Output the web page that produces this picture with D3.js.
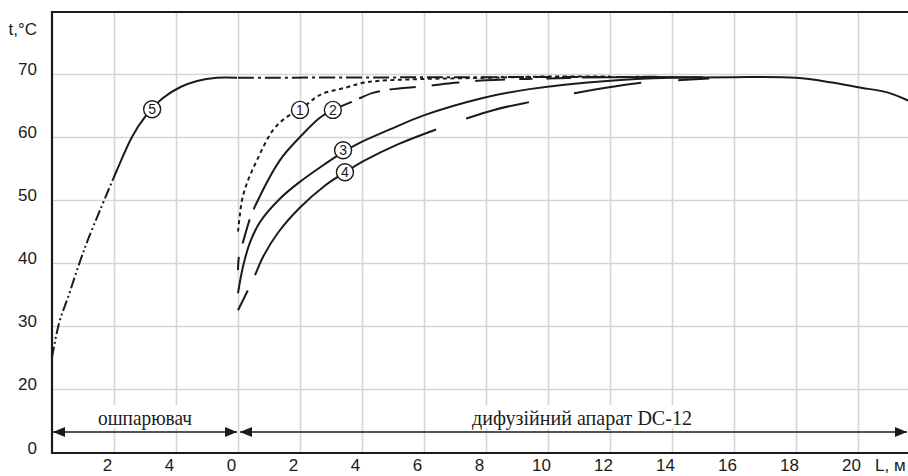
<!DOCTYPE html>
<html>
<head>
<meta charset="utf-8">
<script src="https://cdn.jsdelivr.net/npm/d3@7"></script>
<style>
  html, body { margin: 0; padding: 0; background: #fff; }
  svg { display: block; }
</style>
</head>
<body>
<div id="chart"></div>
<script>
// distance axis: 0..6 = scalder (ошпарювач), from 6 on = diffuser DC-12
const xTickValues = [2, 4, 6, 8, 10, 12, 14, 16, 18, 20, 22, 24, 26];
const xTickLabels = ["2", "4", "0", "2", "4", "6", "8", "10", "12", "14", "16", "18", "20"];
const yTickValues = [0, 20, 30, 40, 50, 60, 70];
const diffuserStart = 6;

// curve 5 (scalder), [length, t]
const curve5 = [
    [0, 25.0], [0.23, 30.5], [0.52, 34.6], [0.9, 40.2], [1.16, 43.7], [1.55, 48.4],
    [1.97, 53.3], [2.1, 54.8], [2.58, 60.0], [3.0, 63.2], [3.58, 66.2], [4.13, 67.9],
    [4.68, 68.9], [5.32, 69.4], [5.97, 69.4]
];
// curve 5 carried over the diffuser, [diffuser length, t]
const curve5Carry = [[0, 69.4], [4, 69.45], [8, 69.5], [13.5, 69.55]];

// diffuser curves, [diffuser length, t]
const curve1 = [
    [0, 45.0], [0.06, 47.6], [0.13, 50.0], [0.29, 52.7], [0.61, 56.3], [1.13, 61.1],
    [1.58, 63.2], [2.0, 64.3], [2.65, 66.7], [3.52, 67.9], [4.03, 68.6], [4.5, 68.9],
    [5.9, 69.2], [8, 69.4], [10, 69.6], [12, 69.6]
];
const curve2 = [
    [0, 38.9], [0.03, 41.0], [0.16, 43.3], [0.39, 47.1], [0.52, 48.7], [1.35, 56.3],
    [2.0, 60.0], [2.65, 63.1], [3.1, 64.4], [3.68, 65.6], [4.35, 67.0], [5.0, 67.6],
    [6.1, 68.1], [7.0, 68.6], [8.0, 69.0], [10, 69.3], [12, 69.5], [15, 69.5]
];
const curve3 = [
    [0, 35.2], [0.16, 39.4], [0.39, 43.3], [0.71, 46.5], [1.35, 50.2], [2.0, 52.9],
    [2.8, 55.7], [3.39, 57.6], [3.94, 59.1], [4.9, 61.2], [5.97, 63.4], [7.9, 66.2],
    [9.4, 67.6], [11.9, 68.9], [14, 69.4], [16, 69.5], [18, 69.4], [19.1, 68.7],
    [20, 67.9], [21, 67.0], [21.7, 65.6], [22, 64.9]
];
const curve4 = [
    [0, 32.5], [0.32, 35.7], [0.55, 38.1], [0.81, 41.0], [1.29, 44.8], [2.0, 48.8],
    [2.81, 52.3], [3.39, 54.2], [4.06, 56.2], [5.19, 58.9], [6.39, 61.2], [7.35, 62.9],
    [8.26, 64.3], [9.45, 65.6], [10.9, 67.0], [13, 68.6], [14.2, 69.0], [15.2, 69.3]
];

// circled curve numbers, [length on full axis, t]
const markNames = ["1", "2", "3", "4", "5"];
const markPos = [[8.0, 64.3], [9.06, 64.3], [9.39, 57.9], [9.45, 54.4], [3.23, 64.4]];

const zones = ["ошпарювач", "дифузійний апарат DC-12"];

const width = 908, height = 476;
const plotLeft = 52, plotTop = 12, plotBottom = 453;
const ink = "#1b1b1b";

const svg = d3.select("#chart").append("svg")
    .attr("width", width)
    .attr("height", height);

const x = d3.scaleLinear().domain([0, 28]).range([plotLeft, plotLeft + 28 * 31]);
const y = d3.scaleLinear().domain([0, 20, 80]).range([plotBottom, 389, 11]);

svg.append("clipPath").attr("id", "plot")
    .append("rect").attr("x", plotLeft).attr("y", plotTop)
    .attr("width", width - plotLeft).attr("height", plotBottom - plotTop);

// grid + labels (x)
const xAxis = svg.append("g")
    .attr("transform", "translate(0," + plotBottom + ")")
    .call(d3.axisBottom(x).tickValues(xTickValues).tickSize(-(plotBottom - plotTop)).tickPadding(0)
        .tickFormat((d, i) => xTickLabels[i]));
xAxis.select(".domain").remove();
xAxis.selectAll(".tick line").attr("stroke", "#d5d5d5").attr("stroke-width", 1.6);
xAxis.selectAll(".tick text")
    .attr("font-family", "'Liberation Sans', Arial, sans-serif")
    .attr("font-size", 17).attr("fill", ink)
    .attr("dx", -7).attr("y", 18).attr("dy", 0);

// grid + labels (y)
const yAxis = svg.append("g")
    .attr("transform", "translate(" + plotLeft + ",0)")
    .call(d3.axisLeft(y).tickValues(yTickValues).tickSize(-(width - plotLeft)).tickPadding(15));
yAxis.select(".domain").remove();
yAxis.selectAll(".tick line").attr("stroke", d => d === 0 ? "none" : "#d5d5d5").attr("stroke-width", 1.6);
yAxis.selectAll(".tick text")
    .attr("font-family", "'Liberation Sans', Arial, sans-serif")
    .attr("font-size", 17).attr("fill", ink)
    .attr("dy", 0).attr("y", 0);

svg.append("text")
    .attr("x", 37).attr("y", 35)
    .attr("text-anchor", "end")
    .attr("font-family", "'Liberation Sans', Arial, sans-serif")
    .attr("font-size", 17).attr("fill", ink)
    .text("t,°C");

svg.append("text")
    .attr("x", 875).attr("y", 471)
    .attr("font-family", "'Liberation Sans', Arial, sans-serif")
    .attr("font-size", 17).attr("fill", ink)
    .text("L, м");

// zone labels with arrows
const zoneBounds = [[0, diffuserStart], [diffuserStart, 28]];
const zoneText = [{ w: 94 }, { w: 220 }];
const defs = svg.append("defs");
defs.append("marker").attr("id", "head").attr("viewBox", "0 0 12 10")
    .attr("refX", 12).attr("refY", 5).attr("markerWidth", 12).attr("markerHeight", 10)
    .attr("markerUnits", "userSpaceOnUse").attr("orient", "auto-start-reverse")
    .append("path").attr("d", "M0,0L12,5L0,10Z").attr("fill", ink);

zones.forEach((name, i) => {
    const x0 = x(zoneBounds[i][0]) + (i === 0 ? 1 : 2);
    const x1 = Math.min(x(zoneBounds[i][1]), width) - 1;
    const cx = i === 0 ? (x0 + x1) / 2 : 582;
    svg.append("rect")
        .attr("x", cx - zoneText[i].w / 2 - 6).attr("y", 405)
        .attr("width", zoneText[i].w + 12).attr("height", 23)
        .attr("fill", "#fff");
    svg.append("text")
        .attr("x", cx).attr("y", 425)
        .attr("text-anchor", "middle")
        .attr("font-family", "'Liberation Serif', 'Times New Roman', serif")
        .attr("font-size", 21).attr("fill", ink)
        .attr("textLength", zoneText[i].w).attr("lengthAdjust", "spacingAndGlyphs")
        .text(name);
    svg.append("line")
        .attr("x1", x0).attr("x2", x1).attr("y1", 432).attr("y2", 432)
        .attr("stroke", ink).attr("stroke-width", 1.6)
        .attr("marker-start", "url(#head)").attr("marker-end", "url(#head)");
});

// frame
svg.append("path")
    .attr("d", "M" + width + "," + plotTop + "H" + plotLeft + "V" + plotBottom + "H" + width)
    .attr("fill", "none").attr("stroke", ink).attr("stroke-width", 2.2);

// curves
const plot = svg.append("g").attr("clip-path", "url(#plot)");
const line = offset => d3.line()
    .x(d => x(d[0] + offset))
    .y(d => y(d[1]))
    .curve(d3.curveCatmullRom.alpha(0.5));

const drawCurve = (data, offset, dash) => plot.append("path")
    .datum(data)
    .attr("d", line(offset))
    .attr("fill", "none")
    .attr("stroke", ink)
    .attr("stroke-width", 2)
    .attr("stroke-dasharray", dash);

drawCurve(curve5Carry, diffuserStart, "16 4 3 4");
drawCurve(curve5.filter(d => d[0] <= 2.0), 0, "11 3 2 3 2 3");
drawCurve(curve5.filter(d => d[0] >= 1.97), 0, null);
drawCurve(curve1, diffuserStart, "4 3.5");
drawCurve(curve2, diffuserStart, "13 14 25 11 150 8 22 10 26 16 28 16 30 14");
drawCurve(curve3, diffuserStart, null);
drawCurve(curve4, diffuserStart, "22 17 240 32 65 46 68 37 200");

// circled numbers
const marks = svg.append("g")
    .selectAll("g")
    .data(markNames)
    .join("g")
    .attr("transform", (d, i) => "translate(" + x(markPos[i][0]) + "," + y(markPos[i][1]) + ")");
marks.append("circle")
    .attr("r", 8.5)
    .attr("fill", "#fff")
    .attr("stroke", ink)
    .attr("stroke-width", 1.4);
marks.append("text")
    .attr("text-anchor", "middle")
    .attr("dy", "0.36em")
    .attr("font-family", "'Liberation Sans', Arial, sans-serif")
    .attr("font-size", 14)
    .attr("fill", ink)
    .text(d => d);
</script>
</body>
</html>
